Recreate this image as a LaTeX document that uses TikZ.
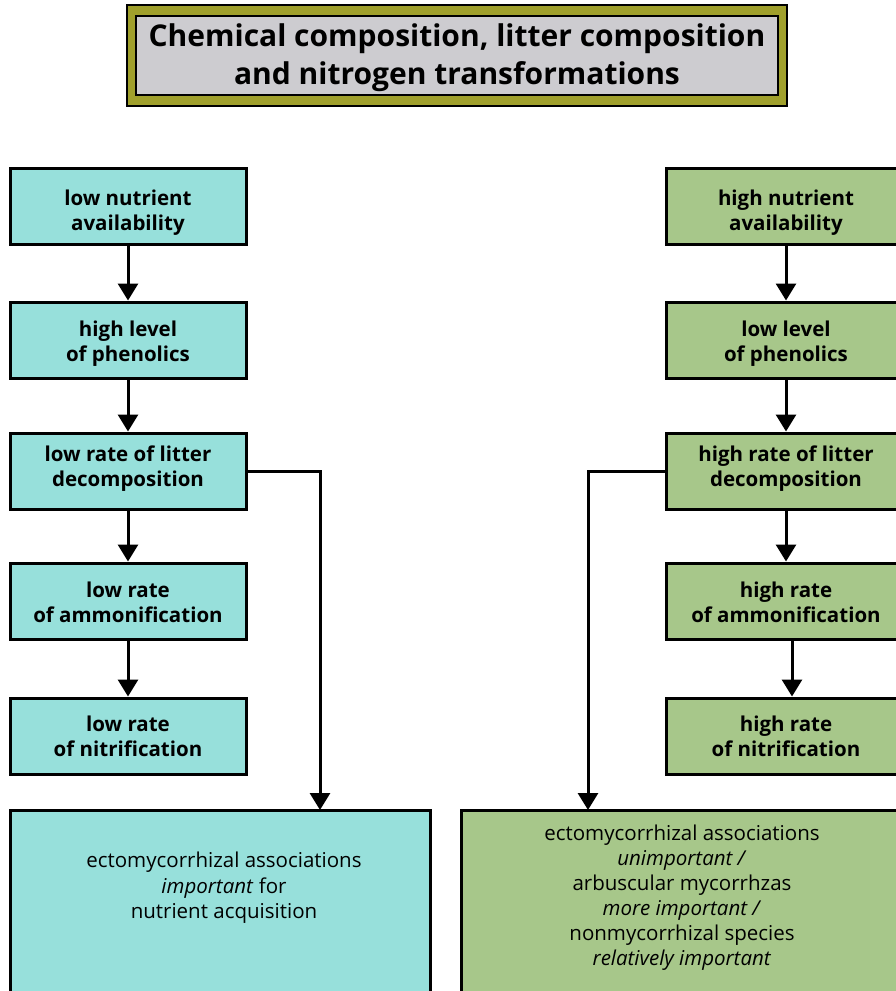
\documentclass[tikz,border=0pt]{standalone}
\usepackage{fontspec}
\setmainfont{Open Sans}
\usetikzlibrary{arrows.meta}
\definecolor{cyanbox}{HTML}{97E0DB}
\definecolor{greenbox}{HTML}{A7C78A}
\definecolor{titlegrey}{HTML}{CDCCD0}
\definecolor{oliveframe}{HTML}{A0A02C}
\begin{document}
\begin{tikzpicture}[x=1pt,y=-1pt,
  box/.style={draw=black, line width=3pt, minimum height=76pt, inner sep=0pt},
  lbox/.style={box, fill=cyanbox, minimum width=236pt},
  rbox/.style={box, fill=greenbox, minimum width=240pt},
  boxtext/.style={align=center, font=\fontsize{20.5}{25}\selectfont\bfseries, inner sep=0pt},
  bigbox/.style={draw=black, line width=3pt, inner sep=0pt},
  bigtext/.style={align=center, font=\fontsize{20.5}{25.5}\selectfont, inner sep=0pt},
  arr/.style={line width=3pt, -{Triangle[width=20pt,length=17pt]}}
]
\useasboundingbox (0,0) rectangle (896,991);
\clip (0,0) rectangle (896,991);

% title
\node[draw=black, line width=2pt, fill=oliveframe, minimum width=660pt, minimum height=101pt, inner sep=0pt] (tframe) at (457,55.5) {};
\node[draw=black, line width=2pt, fill=titlegrey, minimum width=642pt, minimum height=79pt, inner sep=0pt] (tinner) at (457,55.5) {};
\node[align=center, font=\fontsize{30}{38}\selectfont\bfseries, inner sep=0pt] (title) at (457,57.5)
  {Chemical composition, litter composition\\and nitrogen transformations};

% left column
\node[lbox] (L1) at (128,206) {};
\node[lbox] (L2) at (128,340) {};
\node[lbox] (L3) at (128,471) {};
\node[lbox] (L4) at (128,601) {};
\node[lbox] (L5) at (128,736) {};
\node[boxtext] (L1t) at (128,213) {low nutrient\\availability};
\node[boxtext] (L2t) at (128,344) {high level\\of phenolics};
\node[boxtext] (L3t) at (128,469) {low rate of litter\\decomposition};
\node[boxtext] (L4t) at (128,602) {low rate\\of ammonification};
\node[boxtext] (L5t) at (128,736) {low rate\\of nitrification};

% right column
\node[rbox] (R1) at (786,206) {};
\node[rbox] (R2) at (786,340) {};
\node[rbox] (R3) at (786,471) {};
\node[rbox] (R4) at (786,601) {};
\node[rbox] (R5) at (786,736) {};
\node[boxtext] (R1t) at (786,213) {high nutrient\\availability};
\node[boxtext] (R2t) at (786,344) {low level\\of phenolics};
\node[boxtext] (R3t) at (786,469) {high rate of litter\\decomposition};
\node[boxtext] (R4t) at (786,602) {high rate\\of ammonification};
\node[boxtext] (R5t) at (786,736) {high rate\\of nitrification};

% bottom boxes
\node[bigbox, fill=cyanbox, minimum width=420pt, minimum height=200pt] (BL) at (220,910) {};
\node[bigtext] (BLt) at (224,888) {ectomycorrhizal associations\\\textit{important} for\\nutrient acquisition};
\node[bigbox, fill=greenbox, minimum width=450pt, minimum height=200pt] (BR) at (686,910) {};
\node[bigtext, font=\fontsize{20.5}{25}\selectfont] (BRt) at (682,897.5) {ectomycorrhizal associations\\\textit{unimportant /}\\arbuscular mycorrhzas\\\textit{more important /}\\nonmycorrhizal species\\\textit{relatively important}};

% arrows
\draw[arr] (L1) -- (L2);
\draw[arr] (L2) -- (L3);
\draw[arr] (L3) -- (L4);
\draw[arr] (L4) -- (L5);
\draw[arr] (R1) -- (R2);
\draw[arr] (R2) -- (R3);
\draw[arr] (R3) -- (R4);
\draw[arr] ([xshift=6pt]R4.south) -- ([xshift=6pt]R5.north);

\coordinate (BLin) at (320,810);
\coordinate (BRin) at (588,810);
\draw[arr] (L3.east) -| (BLin);
\draw[arr] (R3.west) -| (BRin);
\end{tikzpicture}
\end{document}
